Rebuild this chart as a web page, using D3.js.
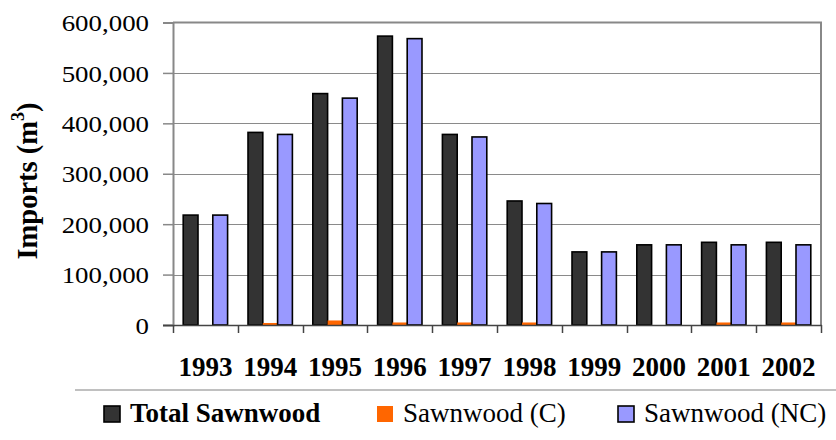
<!DOCTYPE html>
<html>
<head>
<meta charset="utf-8">
<script src="https://cdn.jsdelivr.net/npm/d3@7/dist/d3.min.js"></script>
<style>
  html, body { margin: 0; padding: 0; background: #fff; }
  svg { display: block; }
  text { font-family: "Liberation Serif", "Times New Roman", serif; fill: #000; }
</style>
</head>
<body>
<svg id="chart" width="836" height="440"></svg>
<script>
// Sawnwood imports by year (cubic metres)
const years = ["1993", "1994", "1995", "1996", "1997", "1998", "1999", "2000", "2001", "2002"];
const totalSawnwood = [218000, 382000, 459000, 573000, 378000, 246000, 145000, 159000, 164000, 164000];
const sawnwoodC     = [0, 4000, 9000, 5000, 5000, 5000, 0, 0, 5000, 5000];
const sawnwoodNC    = [218000, 378000, 450000, 568000, 373000, 241000, 145000, 159000, 159000, 159000];
const seriesNames = ["Total Sawnwood", "Sawnwood (C)", "Sawnwood (NC)"];
const seriesColors = ["#333333", "#FF6600", "#9999FF"];
const yTicks = [0, 100000, 200000, 300000, 400000, 500000, 600000];

const seriesValues = [totalSawnwood, sawnwoodC, sawnwoodNC];

const svg = d3.select("#chart");
const plot = { left: 173, right: 821, top: 22.5, bottom: 325 };

const x = d3.scaleBand().domain(years).range([plot.left, plot.right]).padding(0);
const xs = d3.scaleBand().domain(d3.range(3)).range([0, x.bandwidth()])
  .paddingInner(0).paddingOuter(0.69);
const y = d3.scaleLinear().domain([0, 600000]).range([plot.bottom, plot.top]);

// horizontal gridlines
svg.append("g")
  .selectAll("line")
  .data(yTicks.filter(t => t > 0 && t < 600000))
  .join("line")
  .attr("x1", plot.left).attr("x2", plot.right)
  .attr("y1", d => Math.round(y(d)) + 0.5).attr("y2", d => Math.round(y(d)) + 0.5)
  .attr("stroke", "#8a8a8a").attr("stroke-width", 1);

// plot frame: top and right edges
svg.append("path")
  .attr("d", `M${plot.left},${plot.top}H${plot.right}V${plot.bottom}`)
  .attr("fill", "none").attr("stroke", "#888").attr("stroke-width", 2);

// bars
const groups = svg.append("g").selectAll("g")
  .data(years)
  .join("g")
  .attr("transform", d => `translate(${x(d)},0)`);

groups.selectAll("rect")
  .data((d, i) => seriesValues.map((vals, s) => ({ s, v: vals[i] })))
  .join("rect")
  .filter(d => d.v > 0)
  .attr("x", d => xs(d.s))
  .attr("width", xs.bandwidth())
  .attr("y", d => y(d.v))
  .attr("height", d => y(0) - y(d.v))
  .attr("fill", d => seriesColors[d.s])
  .attr("stroke", d => d.s === 1 ? "none" : "#000")
  .attr("stroke-width", 1.6);

// y axis
const yAxis = d3.axisLeft(y).tickValues(yTicks).tickFormat(d3.format(",")).tickSize(10).tickPadding(14);
const gy = svg.append("g").attr("transform", `translate(${plot.left},0)`).call(yAxis);
gy.select(".domain").attr("stroke", "#888").attr("stroke-width", 2);
gy.selectAll(".tick line").attr("stroke", "#888").attr("stroke-width", 1.5);
gy.selectAll(".tick text")
  .attr("font-family", "Liberation Serif, Times New Roman, serif")
  .attr("font-size", 24)
  .attr("fill", "#000")
  .attr("dy", "0.34em")
  .each(function() {
    const t = d3.select(this);
    const xx = +t.attr("x");
    t.attr("transform", `translate(${xx},0) scale(1.12,1) translate(${-xx},0)`);
  });

// x axis
const xAxis = d3.axisBottom(x).tickSize(0).tickFormat(d => d).tickPadding(0);
const gx = svg.append("g").attr("transform", `translate(0,${plot.bottom})`).call(xAxis);
gx.select(".domain").remove();
gx.selectAll(".tick text").remove();

svg.append("line")
  .attr("x1", plot.left - 10).attr("x2", plot.right + 1)
  .attr("y1", plot.bottom + 0.5).attr("y2", plot.bottom + 0.5)
  .attr("stroke", "#444").attr("stroke-width", 1.5);

// category boundary ticks
const boundaries = years.map(d => x(d)).concat([plot.right]);
svg.append("g").selectAll("line")
  .data(boundaries)
  .join("line")
  .attr("x1", d => Math.round(d) + 0.5).attr("x2", d => Math.round(d) + 0.5)
  .attr("y1", plot.bottom).attr("y2", plot.bottom + 8)
  .attr("stroke", "#444").attr("stroke-width", 1.5);

// year labels
svg.append("g").selectAll("text")
  .data(years)
  .join("text")
  .attr("x", d => x(d) + x.bandwidth() / 2)
  .attr("y", 376)
  .attr("text-anchor", "middle")
  .attr("font-size", 27)
  .attr("font-weight", "bold")
  .text(d => d);

// y axis title
const title = svg.append("text")
  .attr("transform", "translate(37,181) rotate(-90)")
  .attr("text-anchor", "middle")
  .attr("font-size", 28.5)
  .attr("font-weight", "bold");
title.append("tspan").text("Imports (m");
title.append("tspan").attr("font-size", 18).attr("dy", "-0.75em").text("3");
title.append("tspan").attr("dy", "0.48em").text(")");

// legend
svg.append("line")
  .attr("x1", 75).attr("x2", 836)
  .attr("y1", 390).attr("y2", 390)
  .attr("stroke", "#c0c0c0").attr("stroke-width", 2);

const legendX = [104, 377, 618];
const legend = svg.append("g").selectAll("g")
  .data(seriesNames)
  .join("g")
  .attr("transform", (d, i) => `translate(${legendX[i]},406)`);
legend.append("rect")
  .attr("width", 16).attr("height", 16)
  .attr("fill", (d, i) => seriesColors[i])
  .attr("stroke", (d, i) => i === 1 ? "none" : "#000")
  .attr("stroke-width", 1.6);
legend.append("text")
  .attr("x", 26)
  .attr("y", 16)
  .attr("font-size", 27)
  .attr("font-weight", (d, i) => i === 0 ? "bold" : "normal")
  .text(d => d);
</script>
</body>
</html>
